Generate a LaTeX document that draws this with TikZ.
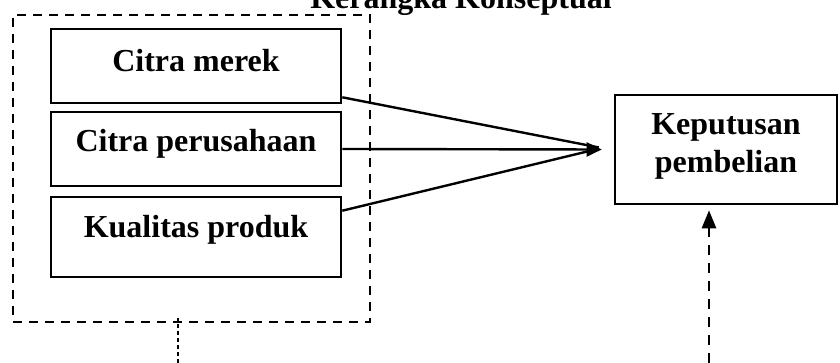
\documentclass[tikz,border=0pt]{standalone}
\usepackage{fontspec}
\setmainfont{Liberation Serif}
\usetikzlibrary{arrows.meta,calc}
\begin{document}
\begin{tikzpicture}[x=1pt,y=-1pt,
  every node/.style={font=\fontsize{32pt}{38pt}\selectfont\bfseries},
  varbox/.style={draw,line width=2.6pt,inner sep=0pt,minimum width=290pt},
  groupbox/.style={draw,line width=2.6pt,dash pattern=on 9pt off 7pt,inner sep=0pt,
    minimum width=357pt,minimum height=307pt},
  link/.style={line width=2.4pt},
  thindash/.style={line width=1.2pt,dash pattern=on 4pt off 3pt},
  thickdash/.style={line width=2.6pt,dash pattern=on 10pt off 8pt}
]
\useasboundingbox (0,0) rectangle (840,363);

% heading, partly above the page edge
\node[anchor=base] (title) at (461,9) {Kerangka Konseptual};

% group of independent variables
\node[groupbox] (group) at (191.5,168.5) {};
\node[varbox,minimum height=74pt,text height=22pt,text depth=10pt] (b1) at (196,66) {Citra merek};
\node[varbox,minimum height=74pt,text height=20pt,text depth=14pt] (b2) at (196,149) {Citra perusahaan};
\node[varbox,minimum height=80pt,text height=20pt,text depth=18pt] (b3) at (196,237) {Kualitas produk};

% dependent variable: two lines, baselines 38pt apart
\node[draw,line width=2.6pt,inner sep=0pt,minimum width=222pt,minimum height=109pt] (kp) at (726,149.5)
  {\raisebox{0pt}[20pt][49pt]{\begin{tabular}[t]{@{}c@{}}Keputusan\\pembelian\end{tabular}}};

% influences converging on one arrowhead
\coordinate (tip) at ([xshift=-12pt,yshift=1.5pt]kp.west);
\draw[link,shorten >=3pt] ([yshift=7pt]b1.south east) -- (tip);
\draw[link,shorten >=3pt] ([yshift=-15pt]b3.north east) -- (tip);
\draw[link,-{Triangle[length=15pt,width=14pt]}] (b2.east) -- ([xshift=-12pt]kp.west);

% dashed leads running off the bottom edge
\coordinate (lowL) at (178,363);
\coordinate (lowR) at (709,363);
\draw[thindash] (lowL) -- ([yshift=5pt]lowL |- group.south);
\draw[thickdash,-{Triangle[length=18pt,width=14pt]}] (lowR) -- ([yshift=-5pt]lowR |- kp.south);
\end{tikzpicture}
\end{document}
